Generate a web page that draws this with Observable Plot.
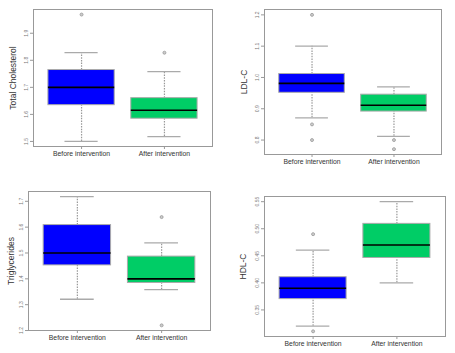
<!DOCTYPE html>
<html><head><meta charset="utf-8">
<script src="https://cdn.jsdelivr.net/npm/d3@7"></script>
<script src="https://cdn.jsdelivr.net/npm/@observablehq/plot@0.6"></script>
<style>
body{margin:0;background:#fff;}
#wrap{position:relative;width:455px;height:353px;overflow:hidden;}
.panel{position:absolute;}
.panel svg{display:block;}
</style></head><body><div id="wrap"></div>
<script>
const groups = ["Before intervention", "After intervention"];
const colors = ["#0000FF", "#00CD66"];

// Total Cholesterol
const tcLow = [1.50, 1.518];
const tcQ1 = [1.634, 1.584];
const tcMed = [1.70, 1.615];
const tcQ3 = [1.764, 1.66];
const tcHigh = [1.828, 1.758];
const tcOutBefore = [1.969];
const tcOutAfter = [1.828];
const tcTicks = [1.5, 1.6, 1.7, 1.8, 1.9];

// LDL-C
const ldlLow = [0.871, 0.812];
const ldlQ1 = [0.951, 0.891];
const ldlMed = [0.981, 0.911];
const ldlQ3 = [1.011, 0.945];
const ldlHigh = [1.10, 0.970];
const ldlOutBefore = [1.20, 0.85, 0.80];
const ldlOutAfter = [0.80, 0.771];
const ldlTicks = [0.8, 0.9, 1.0, 1.1, 1.2];

// Triglycerides
const tgLow = [1.321, 1.358];
const tgQ1 = [1.452, 1.384];
const tgMed = [1.50, 1.40];
const tgQ3 = [1.608, 1.486];
const tgHigh = [1.718, 1.539];
const tgOutBefore = [];
const tgOutAfter = [1.639, 1.22];
const tgTicks = [1.2, 1.3, 1.4, 1.5, 1.6, 1.7];

// HDL-C
const hdlLow = [0.320, 0.400];
const hdlQ1 = [0.370, 0.446];
const hdlMed = [0.390, 0.470];
const hdlQ3 = [0.4105, 0.509];
const hdlHigh = [0.4605, 0.550];
const hdlOutBefore = [0.490, 0.3105];
const hdlOutAfter = [];
const hdlTicks = [0.35, 0.40, 0.45, 0.50, 0.55];

function extent4(vals) {
  const lo = d3.min(vals), hi = d3.max(vals), pad = (hi - lo) * 0.04;
  return [lo - pad, hi + pad];
}

function panel(o) {
  const stats = groups.map((g, i) => ({g, x: i + 1, lo: o.lo[i], q1: o.q1[i], med: o.med[i], q3: o.q3[i], hi: o.hi[i]}));
  const outliers = [...o.outB.map(v => ({x: 1, v})), ...o.outA.map(v => ({x: 2, v}))];
  const all = [...o.lo, ...o.hi, ...o.outB, ...o.outA];
  const chart = Plot.plot({
    width: o.width, height: o.height,
    marginLeft: o.m[0], marginRight: o.m[1], marginTop: o.m[2], marginBottom: o.m[3],
    style: {fontFamily: "'Liberation Sans', Arial, sans-serif", background: "white"},
    x: {type: "linear", domain: [0.42, 2.58]},
    y: {domain: extent4(all)},
    color: {domain: groups, range: colors},
    marks: [
      Plot.ruleX(stats, {x: "x", y1: "q3", y2: "hi", stroke: "#999", strokeWidth: 1.2, strokeDasharray: "1.5,1.2"}),
      Plot.ruleX(stats, {x: "x", y1: "lo", y2: "q1", stroke: "#999", strokeWidth: 1.2, strokeDasharray: "1.5,1.2"}),
      Plot.ruleY(stats, {y: "hi", x1: d => d.x - 0.2, x2: d => d.x + 0.2, stroke: "#aaa", strokeWidth: 1.3}),
      Plot.ruleY(stats, {y: "lo", x1: d => d.x - 0.2, x2: d => d.x + 0.2, stroke: "#aaa", strokeWidth: 1.3}),
      Plot.rect(stats, {x1: d => d.x - 0.4, x2: d => d.x + 0.4, y1: "q1", y2: "q3", fill: "g", stroke: "#aaa", strokeWidth: 1}),
      Plot.ruleY(stats, {y: "med", x1: d => d.x - 0.4, x2: d => d.x + 0.4, stroke: "#000", strokeWidth: 1.6}),
      Plot.dot(outliers, {x: "x", y: "v", r: 1.5, stroke: "#999", fill: "#ccc", strokeWidth: 0.8}),
      Plot.frame({stroke: "#999"}),
      Plot.axisX({ticks: [1, 2], tickFormat: d => groups[d - 1], tickSize: 3, tickPadding: 2, fontSize: 6.8, fill: "#333", stroke: "#999", label: null}),
      Plot.axisY({ticks: o.ticks, tickFormat: o.fmt, tickSize: 3, tickPadding: 3, tickRotate: -90, fontSize: 5, fill: "#777", stroke: "#999",
        label: o.title, labelAnchor: "center", labelArrow: "none", labelOffset: o.labelOffset})
    ]
  });
  chart.querySelectorAll("[aria-label='y-axis label'] text, g[aria-label='y-axis label']").forEach(t => {
    t.setAttribute("font-size", "8.5"); t.setAttribute("fill", "#333");
  });
  const div = document.createElement("div");
  div.className = "panel";
  div.style.left = o.left + "px";
  div.style.top = o.top + "px";
  div.appendChild(chart);
  document.getElementById("wrap").appendChild(div);
}

panel({title: "Total Cholesterol", lo: tcLow, q1: tcQ1, med: tcMed, q3: tcQ3, hi: tcHigh, outB: tcOutBefore, outA: tcOutAfter,
  ticks: tcTicks, fmt: d3.format(".1f"), left: 0, top: 0, width: 228, height: 175, m: [33, 16, 9, 29], labelOffset: 24});
panel({title: "LDL-C", lo: ldlLow, q1: ldlQ1, med: ldlMed, q3: ldlQ3, hi: ldlHigh, outB: ldlOutBefore, outA: ldlOutAfter,
  ticks: ldlTicks, fmt: d3.format(".1f"), left: 228, top: 0, width: 227, height: 175, m: [36, 14, 9, 21], labelOffset: 24});
panel({title: "Triglycerides", lo: tgLow, q1: tgQ1, med: tgMed, q3: tgQ3, hi: tgHigh, outB: tgOutBefore, outA: tgOutAfter,
  ticks: tgTicks, fmt: d3.format(".1f"), left: 0, top: 175, width: 228, height: 178, m: [28, 18, 16, 23], labelOffset: 21});
panel({title: "HDL-C", lo: hdlLow, q1: hdlQ1, med: hdlMed, q3: hdlQ3, hi: hdlHigh, outB: hdlOutBefore, outA: hdlOutAfter,
  ticks: hdlTicks, fmt: d3.format(".2f"), left: 228, top: 175, width: 227, height: 178, m: [36, 10, 21, 17], labelOffset: 25});
</script>
</body></html>
